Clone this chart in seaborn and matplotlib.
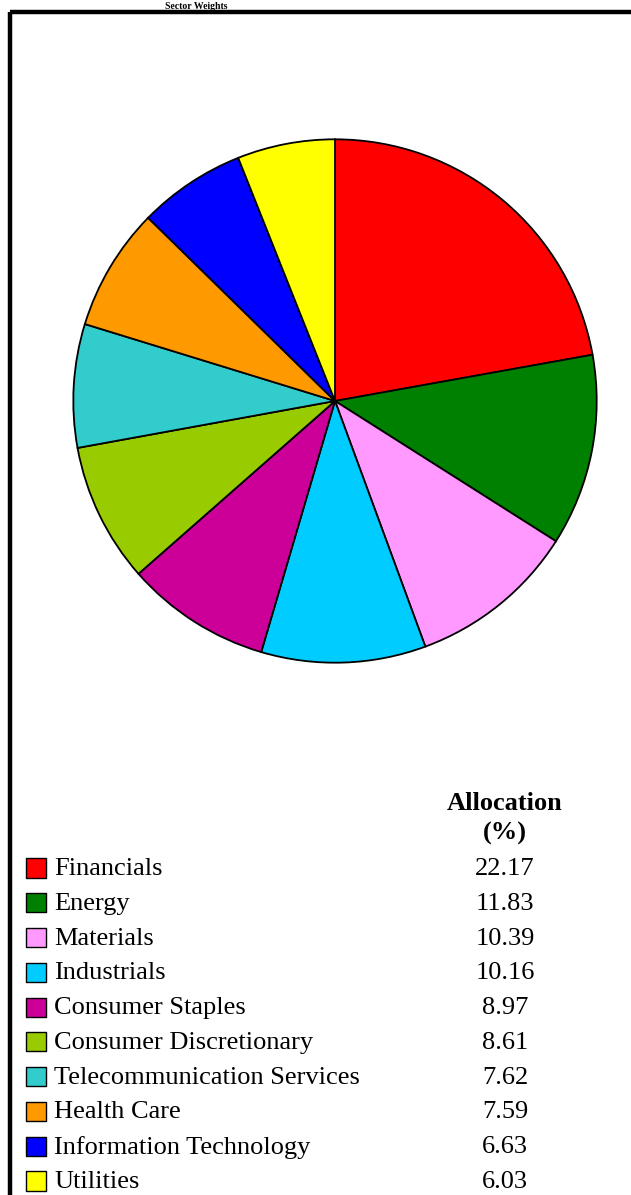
import matplotlib
matplotlib.use("Agg")
import matplotlib.pyplot as plt
import seaborn as sns
import pandas as pd
from matplotlib.patches import Rectangle

sns.set_style("white")
plt.rcParams['font.family'] = ['Liberation Serif', 'DejaVu Serif']
plt.rcParams['text.color'] = 'black'

# Data
SECTORS = ['Financials', 'Energy', 'Materials', 'Industrials', 'Consumer Staples',
           'Consumer Discretionary', 'Telecommunication Services', 'Health Care',
           'Information Technology', 'Utilities']
ALLOCATION = [22.17, 11.83, 10.39, 10.16, 8.97, 8.61, 7.62, 7.59, 6.63, 6.03]
COLORS = ['#FF0000', '#008000', '#FF99FF', '#00CCFF', '#CC0099',
          '#99CC00', '#33CCCC', '#FF9900', '#0000FF', '#FFFF00']

W, H = 631, 1195
fig = plt.figure(figsize=(W / 100, H / 100), dpi=100)

# Pie chart (center ~ (335, 401) px, radius ~263 px)
cx, cy, r = 335, 401, 263
ax_pie = fig.add_axes([(cx - r) / W, (H - cy - r) / H, 2 * r / W, 2 * r / H])
ax_pie.pie(ALLOCATION, colors=COLORS, startangle=90, counterclock=False,
           radius=1, wedgeprops=dict(edgecolor='black', linewidth=1.3))
ax_pie.set_xlim(-1.005, 1.005)
ax_pie.set_ylim(-1.005, 1.005)
ax_pie.set_aspect('equal')
ax_pie.axis('off')

# Overlay axes in pixel coordinates for frame, title and legend table
ax = fig.add_axes([0, 0, 1, 1], zorder=-1)

ax.add_patch(Rectangle((9.5, 11.5), 800, 1400, fill=False, edgecolor='black', linewidth=3.2))
ax.text(165, 9, "Sector Weights", fontsize=7, fontweight='bold', va='baseline', ha='left')

# Legend table
row0, step = 869, 34.78
legend_df = pd.DataFrame({
    'sector': SECTORS,
    'value': ALLOCATION,
    'x': [36] * len(SECTORS),
    'y': [row0 - 1 + i * step for i in range(len(SECTORS))],
})
sns.scatterplot(data=legend_df, x='x', y='y', hue='sector', palette=COLORS,
                marker='s', s=190, edgecolor='black', linewidth=1.0, legend=False, ax=ax)
ax.set_xlim(0, W)
ax.set_ylim(H, 0)
ax.axis('off')

for i, row in legend_df.iterrows():
    ty = row0 + i * step
    ax.text(54, ty, row['sector'], fontsize=19, va='center', ha='left')
    ax.text(505, ty, f"{row['value']:.2f}", fontsize=19, va='center', ha='center')

ax.text(505, 803, "Allocation", fontsize=19, fontweight='bold', va='center', ha='center')
ax.text(505, 833, "(%)", fontsize=19, fontweight='bold', va='center', ha='center')

fig.savefig("out.png", dpi=100)
